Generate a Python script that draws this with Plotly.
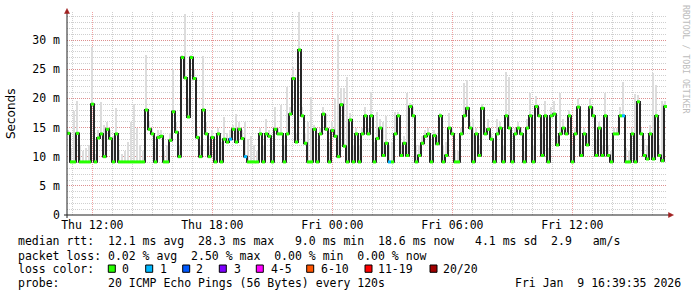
import plotly.graph_objects as go
import pandas as pd

# ---------------- data ----------------
median_ms = [
    14.0, 9.1, 9.1, 14.0, 9.1, 9.1, 9.1, 9.1, 19.0, 9.1,
    13.2, 13.9, 10.0, 14.7, 13.1, 9.1, 13.9, 9.1, 9.1, 9.1,
    9.1, 9.1, 9.1, 9.1, 9.1, 9.1, 18.0, 14.7, 13.9, 9.1,
    13.3, 13.5, 9.1, 9.1, 12.8, 17.7, 14.2, 10.0, 27.0, 23.5,
    16.8, 27.0, 23.4, 13.3, 10.0, 18.0, 13.9, 10.0, 13.3, 9.1,
    13.9, 9.1, 13.0, 12.5, 13.0, 14.7, 12.5, 14.7, 13.1, 10.0,
    9.1, 9.1, 9.1, 9.1, 13.9, 9.1, 13.9, 13.5, 9.1, 14.7,
    13.9, 13.9, 9.1, 13.9, 17.3, 23.4, 12.5, 28.3, 17.0, 12.3,
    9.1, 9.1, 14.7, 9.1, 13.9, 17.3, 14.7, 9.1, 14.5, 13.5,
    10.0, 18.9, 11.8, 9.1, 16.3, 9.1, 13.9, 9.1, 13.9, 17.0,
    13.9, 17.0, 9.1, 13.1, 14.9, 10.2, 12.3, 9.1, 9.1, 13.9,
    17.0, 10.2, 12.3, 10.2, 18.6, 17.0, 9.1, 10.2, 12.3, 13.5,
    13.9, 9.1, 13.6, 12.2, 17.0, 9.1, 10.2, 14.9, 13.9, 9.1,
    9.1, 13.9, 17.0, 18.3, 14.9, 9.1, 13.9, 10.2, 18.3, 13.9,
    14.7, 13.0, 9.1, 13.9, 14.9, 9.1, 17.0, 14.9, 9.1, 13.9,
    14.9, 13.9, 9.1, 14.9, 17.0, 9.1, 18.6, 17.0, 10.2, 17.0,
    9.1, 17.0, 17.3, 12.0, 13.9, 14.9, 13.9, 17.0, 9.1, 13.9,
    18.5, 10.2, 13.9, 12.0, 18.5, 17.0, 10.2, 14.9, 10.2, 17.0,
    10.2, 9.1, 13.9, 13.9, 17.0, 17.0, 9.1, 9.1, 13.9, 9.1,
    19.4, 13.9, 10.2, 9.6, 13.9, 9.6, 17.0, 10.2, 9.3, 18.6,
]

smoke_top_ms = [
    14.5, 11.5, 17.8, 19.5, 12.0, 11.0, 11.5, 12.0, 28.8, 10.5,
    14.5, 19.4, 15.5, 16.0, 14.5, 13.5, 18.3, 11.0, 10.5, 11.0,
    12.5, 16.0, 19.0, 15.0, 12.0, 11.0, 27.4, 16.0, 15.0, 11.5,
    14.5, 14.5, 11.0, 12.0, 14.0, 25.0, 16.0, 12.0, 27.5, 34.5,
    20.0, 27.5, 25.0, 14.5, 12.0, 27.3, 16.0, 12.0, 14.5, 11.0,
    15.0, 12.5, 16.8, 14.0, 14.5, 15.5, 17.4, 16.0, 14.5, 16.0,
    13.0, 13.5, 12.0, 11.0, 15.0, 12.0, 16.5, 14.5, 11.5, 18.5,
    15.0, 18.9, 12.0, 22.0, 18.5, 25.4, 14.0, 35.0, 18.5, 14.0,
    16.0, 20.3, 15.5, 11.0, 15.0, 18.5, 17.3, 12.5, 16.0, 20.0,
    30.8, 21.8, 21.8, 23.7, 17.5, 12.0, 15.0, 12.0, 15.0, 18.5,
    15.0, 21.1, 12.5, 17.6, 16.5, 16.0, 17.0, 12.0, 12.5, 17.6,
    17.6, 12.0, 13.5, 21.0, 19.2, 18.5, 12.0, 12.0, 13.5, 14.5,
    15.0, 11.0, 14.5, 13.5, 17.5, 12.0, 12.5, 17.5, 15.0, 11.0,
    11.0, 15.0, 22.6, 23.1, 16.0, 16.5, 15.0, 12.0, 19.0, 15.0,
    16.5, 14.0, 11.0, 16.5, 16.0, 12.0, 24.6, 23.7, 11.0, 15.0,
    16.0, 15.0, 11.0, 16.5, 20.9, 12.0, 20.4, 18.5, 14.0, 19.5,
    11.5, 18.5, 19.5, 13.5, 21.0, 16.5, 15.0, 18.0, 12.0, 15.0,
    20.0, 12.0, 15.0, 14.0, 20.0, 18.5, 13.0, 16.0, 12.0, 21.0,
    12.0, 11.0, 15.0, 15.0, 18.5, 22.8, 11.5, 11.0, 15.0, 20.8,
    20.5, 15.0, 13.0, 12.0, 15.5, 24.3, 22.3, 12.0, 19.5, 19.5,
]

loss_one_cols = [54, 59, 107, 185]   # steps with 1 lost ping

y_tick_vals = [0, 5, 10, 15, 20, 25, 30]
y_tick_text = ["0", "5 m", "10 m", "15 m", "20 m", "25 m", "30 m"]

stats_median = "median rtt:  12.1 ms avg  28.3 ms max   9.0 ms min  18.6 ms now   4.1 ms sd  2.9   am/s"
stats_loss = "packet loss: 0.02 % avg  2.50 % max  0.00 % min  0.00 % now"
loss_label = "loss color:"
loss_classes = ["0", "1", "2", "3", "4-5", "6-10", "11-19", "20/20"]
loss_colors = ["#26ff00", "#00b8ff", "#0059ff", "#7e00ff", "#ff00ff", "#ff5500", "#ff0000", "#a10000"]
probe_text = "probe:       20 ICMP Echo Pings (56 Bytes) every 120s"
stamp_text = "Fri Jan  9 16:39:35 2026"
watermark = "RRDTOOL / TOBI OETIKER"

# ---------------- geometry ----------------
W, H = 697, 297
L, R, T, B = 67, 30, 12, 82
PW, PH = W - L - R, H - T - B


def px(x):
    return (x - L) / PW


def py(y):
    return (T + PH - y) / PH


start = pd.Timestamp("2026-01-08 10:44")
step = pd.Timedelta(minutes=9)
n = len(median_ms)
t_edges = [start + i * step for i in range(n + 1)]
t_mid = [start + i * step + step / 2 for i in range(n)]

fig = go.Figure()

# smoke
fig.add_trace(go.Bar(
    x=t_mid, y=[s - m for s, m in zip(smoke_top_ms, median_ms)], base=median_ms,
    width=step.total_seconds() * 1000 * 0.6, marker=dict(color="#dcdcdc", line=dict(width=0)),
    hoverinfo="skip", showlegend=False))

# median step line (black)
fig.add_trace(go.Scatter(
    x=t_edges, y=median_ms + [median_ms[-1]], mode="lines",
    line=dict(color="#1e1e1e", width=1.9, shape="hv"), hoverinfo="skip", showlegend=False))

# loss-coloured median segments
for ci, col in enumerate(["#26ff00", "#00b8ff"]):
    xs, ys = [], []
    for i, m in enumerate(median_ms):
        is_loss = i in loss_one_cols
        if (ci == 1) == is_loss:
            xs += [t_edges[i], t_edges[i + 1], None]
            ys += [m, m, None]
    fig.add_trace(go.Scatter(x=xs, y=ys, mode="lines", line=dict(color=col, width=3),
                             hoverinfo="skip", showlegend=False))

mono = "DejaVu Sans Mono"
FS = 11.5
ann = []
# y title
ann.append(dict(text="Seconds", x=px(11), y=py(114), xref="paper", yref="paper",
                showarrow=False, textangle=-90, font=dict(family="DejaVu Sans", size=12, color="#000"),
                xanchor="center", yanchor="middle"))
# watermark
ann.append(dict(text=watermark, x=px(686), y=py(59), xref="paper", yref="paper",
                showarrow=False, textangle=90, font=dict(family=mono, size=8.2, color="#bcbcbc"),
                xanchor="center", yanchor="middle"))
for txt, yy in [(stats_median, 241), (stats_loss, 255.5), (probe_text, 283)]:
    ann.append(dict(text=txt, x=px(16), y=py(yy), xref="paper", yref="paper", showarrow=False,
                    font=dict(family=mono, size=FS, color="#000"), xanchor="left", yanchor="middle"))
ann.append(dict(text=loss_label, x=px(16), y=py(269), xref="paper", yref="paper", showarrow=False,
                font=dict(family=mono, size=FS, color="#000"), xanchor="left", yanchor="middle"))
ann.append(dict(text=stamp_text, x=px(512.5), y=py(283), xref="paper", yref="paper", showarrow=False,
                font=dict(family=mono, size=FS, color="#000"), xanchor="left", yanchor="middle"))

box_x = [108.3, 145.7, 182.7, 219.3, 256.3, 306.7, 365.0, 430.0]
lab_x = [120.0, 157.5, 194.3, 231.5, 268.5, 318.5, 376.0, 441.0]
shapes = []
for bx, lx, lab, col in zip(box_x, lab_x, loss_classes, loss_colors):
    shapes.append(dict(type="rect", xref="paper", yref="paper", x0=px(bx), x1=px(bx + 7),
                       y0=py(272.3), y1=py(265), fillcolor=col, line=dict(color="#000", width=1)))
    ann.append(dict(text=lab, x=px(lx), y=py(269), xref="paper", yref="paper", showarrow=False,
                    font=dict(family=mono, size=FS, color="#000"), xanchor="left", yanchor="middle"))

# axis lines and arrows
shapes.append(dict(type="line", xref="paper", yref="paper", x0=px(64), x1=px(669), y0=py(215), y1=py(215),
                   line=dict(color="#202020", width=1)))
shapes.append(dict(type="line", xref="paper", yref="paper", x0=px(67), x1=px(67), y0=py(218), y1=py(12),
                   line=dict(color="#202020", width=1)))
shapes.append(dict(type="path", xref="paper", yref="paper",
                   path=f"M {px(64.5)} {py(13.5)} L {px(69.5)} {py(13.5)} L {px(67)} {py(8.5)} Z",
                   fillcolor="#a02020", line=dict(color="#a02020", width=0.5)))
shapes.append(dict(type="path", xref="paper", yref="paper",
                   path=f"M {px(668.5)} {py(212.5)} L {px(668.5)} {py(217.5)} L {px(673.5)} {py(215)} Z",
                   fillcolor="#a02020", line=dict(color="#a02020", width=0.5)))

minor_grid = "rgba(160,160,160,0.5)"
major_grid = "rgba(230,100,100,0.6)"

fig.update_layout(
    width=W, height=H, autosize=False,
    margin=dict(l=L, r=R, t=T, b=B, pad=0),
    paper_bgcolor="#ffffff", plot_bgcolor="#ffffff",
    barmode="overlay", bargap=0, hovermode=False, showlegend=False,
    annotations=ann, shapes=shapes,
    xaxis=dict(
        type="date", range=[start, start + n * step],
        tick0="2026-01-08 00:00", dtick=6 * 3600 * 1000, tickformat="%a %H:%M",
        showgrid=True, gridcolor=major_grid, griddash="1px,1px", gridwidth=1,
        minor=dict(dtick=3600 * 1000, tick0="2026-01-08 00:00", showgrid=True,
                   gridcolor=minor_grid, griddash="1px,1px", gridwidth=1),
        ticks="", ticklabelstandoff=1, showline=False, zeroline=False,
        tickfont=dict(family=mono, size=FS, color="#000"),
    ),
    yaxis=dict(
        range=[0, PH / (215 - 40) * 30],
        tickvals=y_tick_vals, ticktext=y_tick_text,
        showgrid=True, gridcolor=major_grid, griddash="1px,1px", gridwidth=1,
        minor=dict(dtick=1, tick0=0, showgrid=True, gridcolor=minor_grid,
                   griddash="1px,1px", gridwidth=1),
        ticks="", ticklabelstandoff=6, showline=False, zeroline=False,
        tickfont=dict(family=mono, size=FS, color="#000"),
    ),
)

fig.write_html("out.html", config={"displayModeBar": False})
